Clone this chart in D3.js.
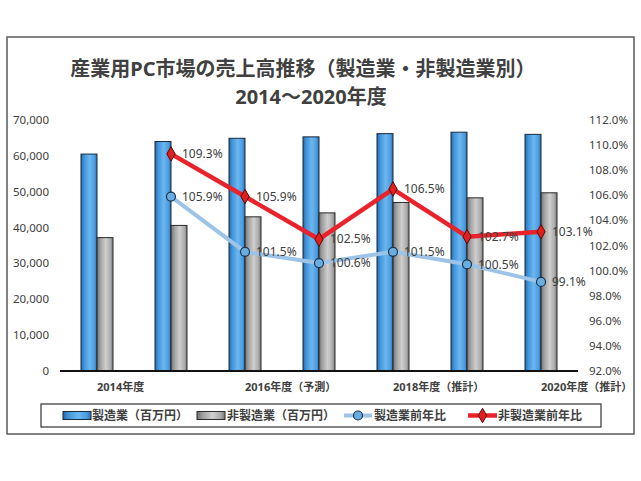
<!DOCTYPE html>
<html>
<head>
<meta charset="utf-8">
<script src="https://cdn.jsdelivr.net/npm/d3@7"></script>
<style>
  body { margin: 0; background: #fff; }
  text { font-family: "Noto Sans", "Noto Sans CJK JP", sans-serif; }
</style>
</head>
<body>
<svg id="chart" width="641" height="481"></svg>
<script>
// data
const years = ["2014", "2015", "2016", "2017", "2018", "2019", "2020"];
const xLabels = ["2014年度", "", "2016年度（予測）", "", "2018年度（推計）", "", "2020年度（推計）"];
const mfgSales = [60500, 64000, 64900, 65300, 66200, 66600, 66000];
const nonMfgSales = [37200, 40600, 43000, 44100, 47000, 48300, 49700];
const mfgYoY = [null, 105.9, 101.5, 100.6, 101.5, 100.5, 99.1];
const nonMfgYoY = [null, 109.3, 105.9, 102.5, 106.5, 102.7, 103.1];
const leftTicks = [0, 10000, 20000, 30000, 40000, 50000, 60000, 70000];
const rightTicks = [92, 94, 96, 98, 100, 102, 104, 106, 108, 110, 112];

const svg = d3.select("#chart");
const ink = "#404040";

// gradients for the bevelled bars
const defs = svg.append("defs");
function grad(id, stops) {
  const g = defs.append("linearGradient").attr("id", id)
    .attr("x1", "0%").attr("x2", "100%").attr("y1", "0%").attr("y2", "0%");
  stops.forEach(s => g.append("stop").attr("offset", s[0]).attr("stop-color", s[1]));
}
grad("gBlue", [["0%", "#2466a8"], ["18%", "#3f93da"], ["55%", "#6cb7ef"], ["85%", "#4a9be0"], ["100%", "#2a6db0"]]);
grad("gGray", [["0%", "#6e6e6e"], ["18%", "#9c9c9c"], ["55%", "#cfcfcf"], ["85%", "#a9a9a9"], ["100%", "#767676"]]);

// outer frame
svg.append("rect").attr("x", 7).attr("y", 37).attr("width", 627).attr("height", 397)
  .attr("fill", "#fff").attr("stroke", "#5a5a5a").attr("stroke-width", 1.5);

// title
svg.append("text").attr("x", 303).attr("y", 71).attr("text-anchor", "middle")
  .attr("dominant-baseline", "middle")
  .style("font-size", "20px").style("font-weight", "bold").attr("fill", ink)
  .text("産業用PC市場の売上高推移（製造業・非製造業別）");
svg.append("text").attr("x", 311).attr("y", 99).attr("text-anchor", "middle")
  .attr("dominant-baseline", "middle")
  .style("font-size", "20px").style("font-weight", "bold").attr("fill", ink)
  .text("2014〜2020年度");

// scales
const x = d3.scaleBand().domain(years).range([60, 578]).padding(0);
const barW = 16;
const sub = d3.scaleBand().domain(["mfg", "non"]).range([-barW, barW]);
const yL = d3.scaleLinear().domain([0, 70000]).range([371, 120]);
const yR = d3.scaleLinear().domain([92, 112]).range([371, 120]);
const cx = d => x(d) + x.bandwidth() / 2;

// left axis labels
svg.append("g").selectAll("text").data(leftTicks).join("text")
  .attr("x", 49).attr("y", d => yL(d)).attr("dy", "0.35em")
  .attr("text-anchor", "end").style("font-size", "11.5px").attr("fill", ink)
  .text(d => d3.format(",")(d));

// right axis labels
svg.append("g").selectAll("text").data(rightTicks).join("text")
  .attr("x", 589).attr("y", d => yR(d)).attr("dy", "0.35em")
  .attr("text-anchor", "start").style("font-size", "11.5px").attr("fill", ink)
  .text(d => d.toFixed(1) + "%");

// bars
const rows = years.map((y, i) => ({ year: y, mfg: mfgSales[i], non: nonMfgSales[i] }));
const bars = svg.append("g");
bars.selectAll("rect.mfg").data(rows).join("rect").attr("class", "mfg")
  .attr("x", d => cx(d.year) + sub("mfg")).attr("width", sub.bandwidth())
  .attr("y", d => yL(d.mfg)).attr("height", d => yL(0) - yL(d.mfg))
  .attr("fill", "url(#gBlue)").attr("stroke", "#1b2a3a").attr("stroke-width", 1);
bars.selectAll("rect.non").data(rows).join("rect").attr("class", "non")
  .attr("x", d => cx(d.year) + sub("non")).attr("width", sub.bandwidth())
  .attr("y", d => yL(d.non)).attr("height", d => yL(0) - yL(d.non))
  .attr("fill", "url(#gGray)").attr("stroke", "#2a2a2a").attr("stroke-width", 1);

// baseline
svg.append("line").attr("x1", x.range()[0]).attr("x2", x.range()[1])
  .attr("y1", yL(0)).attr("y2", yL(0)).attr("stroke", "#111").attr("stroke-width", 2);

// x labels, left-aligned at the group centre
svg.append("g").selectAll("text").data(years.filter((d, i) => xLabels[i])).join("text")
  .attr("x", d => cx(d)).attr("y", 388).attr("dominant-baseline", "middle")
  .style("font-size", "11px").style("font-weight", "bold").attr("fill", ink)
  .text(d => xLabels[years.indexOf(d)]);

// lines
const mfgPts = years.map((y, i) => ({ year: y, v: mfgYoY[i] })).filter(d => d.v != null);
const nonPts = years.map((y, i) => ({ year: y, v: nonMfgYoY[i] })).filter(d => d.v != null);
const line = d3.line().x(d => cx(d.year)).y(d => yR(d.v));

svg.append("path").datum(mfgPts).attr("d", line)
  .attr("fill", "none").attr("stroke", "#9dc3e6").attr("stroke-width", 4)
  .attr("stroke-linejoin", "round");
svg.append("path").datum(nonPts).attr("d", line)
  .attr("fill", "none").attr("stroke", "#e8232b").attr("stroke-width", 4.5)
  .attr("stroke-linejoin", "round");

svg.append("g").selectAll("circle").data(mfgPts).join("circle")
  .attr("cx", d => cx(d.year)).attr("cy", d => yR(d.v)).attr("r", 4.5)
  .attr("fill", "#6aaee0").attr("stroke", "#1c3550").attr("stroke-width", 1.2);
const diamond = d3.symbol().type(d3.symbolDiamond).size(60);
svg.append("g").selectAll("path").data(nonPts).join("path")
  .attr("transform", d => `translate(${cx(d.year)},${yR(d.v)})`)
  .attr("d", diamond).attr("fill", "#e01f1f").attr("stroke", "#5a0a0a").attr("stroke-width", 1);

// data labels
[mfgPts, nonPts].forEach(pts => {
  svg.append("g").selectAll("text").data(pts).join("text")
    .attr("x", d => cx(d.year) + 11).attr("y", d => yR(d.v)).attr("dy", "0.35em")
    .style("font-size", "12px").attr("fill", ink)
    .text(d => d.v.toFixed(1) + "%");
});

// legend
const lg = svg.append("g");
lg.append("rect").attr("x", 41).attr("y", 404).attr("width", 560).attr("height", 23)
  .attr("fill", "#fff").attr("stroke", "#333").attr("stroke-width", 1.2);
const ly = 415.5;
lg.append("rect").attr("x", 63).attr("y", ly - 4).attr("width", 28).attr("height", 8)
  .attr("fill", "url(#gBlue)").attr("stroke", "#1b2a3a");
lg.append("rect").attr("x", 197).attr("y", ly - 4).attr("width", 28).attr("height", 8)
  .attr("fill", "url(#gGray)").attr("stroke", "#2a2a2a");
lg.append("line").attr("x1", 344).attr("x2", 372).attr("y1", ly).attr("y2", ly)
  .attr("stroke", "#9dc3e6").attr("stroke-width", 4);
lg.append("circle").attr("cx", 358).attr("cy", ly).attr("r", 4.5)
  .attr("fill", "#6aaee0").attr("stroke", "#1c3550").attr("stroke-width", 1.2);
lg.append("line").attr("x1", 468).attr("x2", 497).attr("y1", ly).attr("y2", ly)
  .attr("stroke", "#e8232b").attr("stroke-width", 4.5);
lg.append("path").attr("transform", `translate(482.5,${ly})`).attr("d", diamond)
  .attr("fill", "#e01f1f").attr("stroke", "#5a0a0a");
[[92, "製造業（百万円）"], [227, "非製造業（百万円）"], [374, "製造業前年比"], [498, "非製造業前年比"]]
  .forEach(([lx, t]) => lg.append("text").attr("x", lx).attr("y", ly).attr("dy", "0.35em")
    .style("font-size", "12px").style("font-weight", "bold").attr("fill", ink).text(t));
</script>
</body>
</html>
